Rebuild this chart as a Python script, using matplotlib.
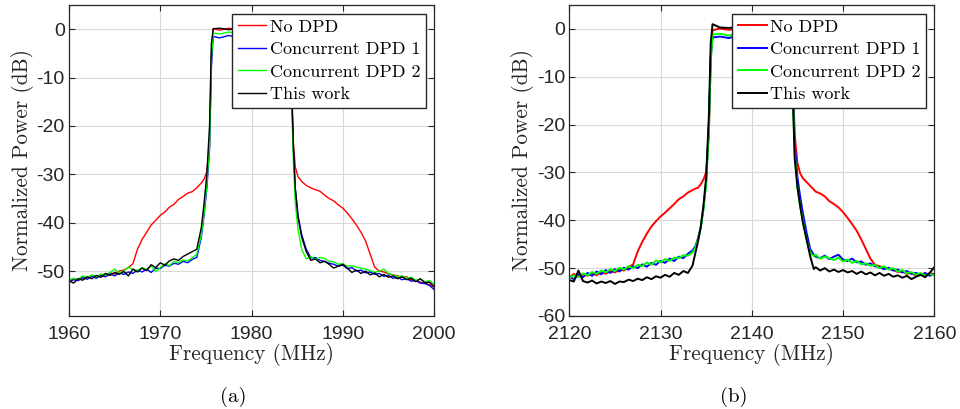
import numpy as np
import matplotlib
matplotlib.use('Agg')
import matplotlib.pyplot as plt

# frequency grids (MHz)
freq_a = [1960, 1960.5, 1961, 1961.5, 1962, 1962.5, 1963, 1963.5, 1964, 1964.5,
          1965, 1965.5, 1966, 1966.5, 1967, 1967.5, 1968, 1968.5, 1969, 1969.5,
          1970, 1970.5, 1971, 1971.5, 1972, 1972.5, 1973, 1973.5, 1974, 1974.5,
          1974.8, 1975.1, 1975.4, 1975.6, 1975.8, 1976.5, 1977.5, 1978.5, 1979.5, 1980.5,
          1981.5, 1982.5, 1983.5, 1984.2, 1984.45, 1984.6, 1984.8, 1985.1, 1985.5, 1986,
          1986.5, 1987, 1987.5, 1988, 1988.5, 1989, 1989.5, 1990, 1990.5, 1991,
          1991.5, 1992, 1992.5, 1993, 1993.5, 1994, 1994.5, 1995, 1995.5, 1996,
          1996.5, 1997, 1997.5, 1998, 1998.5, 1999, 1999.5, 2000]

nodpd_a = [-52.0, -51.6, -51.8, -51.2, -51.5, -51.0, -51.3, -50.8, -50.9, -50.4,
           -50.6, -50.0, -49.8, -49.3, -48.5, -45.5, -43.5, -42.0, -40.5, -39.5,
           -38.5, -37.8, -36.8, -36.2, -35.2, -34.6, -33.9, -33.6, -32.8, -31.8,
           -31.0, -29.5, -24.0, -5.0, 0.1, -0.2, 0.2, -0.1, 0.0, 0.1,
           -0.2, 0.1, -0.1, 0.0, -15.0, -24.0, -28.5, -30.5, -31.5, -32.3,
           -32.8, -33.2, -33.5, -34.3, -35.0, -35.5, -36.3, -37.0, -38.0, -39.2,
           -40.5, -42.0, -43.8, -46.5, -49.2, -50.0, -50.2, -50.6, -50.8, -51.0,
           -51.3, -51.2, -51.8, -51.9, -52.3, -52.5, -52.8, -53.3]

cdpd1_a = [-52.3, -51.8, -52.0, -51.4, -51.7, -51.1, -51.5, -50.9, -51.2, -50.6,
           -51.0, -50.4, -50.7, -50.2, -50.5, -49.8, -50.2, -49.6, -50.3, -49.4,
           -49.5, -48.8, -49.0, -48.4, -48.6, -48.0, -48.3, -47.6, -47.2, -43.0,
           -38.5, -33.0, -25.0, -8.0, -1.5, -1.8, -1.3, -1.7, -1.4, -1.6,
           -1.3, -1.7, -1.5, -1.6, -16.0, -25.0, -33.0, -38.5, -42.5, -45.5,
           -47.3, -47.2, -47.8, -48.0, -48.4, -48.6, -49.0, -48.8, -49.5, -49.3,
           -50.0, -49.8, -50.4, -50.2, -50.7, -50.5, -51.1, -50.9, -51.5, -51.3,
           -51.8, -51.6, -52.1, -52.0, -52.5, -52.6, -53.0, -53.8]

cdpd2_a = [-51.8, -51.5, -51.7, -51.0, -51.4, -50.8, -51.2, -50.6, -50.9, -50.3,
           -49.6, -50.4, -50.0, -49.2, -49.7, -49.9, -49.3, -49.7, -49.0, -50.1,
           -49.3, -48.5, -48.9, -48.0, -48.3, -47.7, -47.9, -47.3, -46.5, -42.5,
           -38.0, -32.0, -24.0, -6.0, -0.8, -1.0, -0.6, -0.9, -0.7, -0.9,
           -0.6, -0.8, -0.7, -0.9, -18.0, -28.0, -36.0, -41.5, -45.5, -47.5,
           -47.0, -47.6, -47.2, -47.4, -48.0, -48.1, -48.6, -48.5, -49.0, -48.9,
           -49.2, -49.4, -49.6, -49.9, -50.3, -50.0, -49.6, -50.5, -50.8, -51.2,
           -51.0, -51.5, -51.3, -51.9, -51.7, -52.2, -52.0, -52.7]

work_a = [-52.0, -52.5, -51.6, -51.9, -51.2, -51.6, -50.9, -51.3, -50.5, -50.9,
          -50.3, -50.7, -50.1, -51.0, -49.6, -50.2, -49.4, -49.9, -48.7, -49.3,
          -48.3, -48.8, -47.9, -47.5, -47.8, -47.0, -46.5, -46.0, -45.5, -41.0,
          -36.0, -30.0, -20.0, -3.0, 0.1, 0.2, -0.1, 0.1, 0.0, 0.1,
          -0.1, 0.1, 0.0, 0.0, -16.0, -25.0, -33.0, -39.0, -43.0, -46.0,
          -47.8, -47.5, -48.3, -48.0, -48.6, -49.4, -49.0, -48.6, -49.4, -50.3,
          -49.8, -50.5, -50.0, -50.8, -50.4, -51.2, -50.7, -51.3, -51.0, -51.6,
          -51.2, -51.8, -51.5, -52.2, -51.6, -52.4, -52.3, -53.2]

freq_b = [2120, 2120.5, 2121, 2121.5, 2122, 2122.5, 2123, 2123.5, 2124, 2124.5,
          2125, 2125.5, 2126, 2126.5, 2127, 2127.5, 2128, 2128.5, 2129, 2129.5,
          2130, 2130.5, 2131, 2131.5, 2132, 2132.5, 2133, 2133.5,
          2133.8, 2134.1, 2134.4, 2134.7, 2135.0, 2135.3, 2135.5, 2135.7, 2136.5, 2137.5,
          2138.5, 2139.5, 2140.5, 2141.5, 2142.5, 2143.5, 2144.2, 2144.5, 2144.7, 2145.0,
          2145.3, 2145.6, 2146.0, 2146.4, 2146.8,
          2147, 2147.5, 2148, 2148.5, 2149, 2149.5, 2150, 2150.5, 2151, 2151.5,
          2152, 2152.5, 2153, 2153.5, 2154, 2154.5, 2155, 2155.5, 2156, 2156.5,
          2157, 2157.5, 2158, 2158.5, 2159, 2159.5, 2160]

nodpd_b = [-52.0, -51.2, -51.8, -51.3, -51.6, -51.0, -51.5, -50.8, -51.2, -50.6,
           -50.9, -50.3, -50.5, -49.8, -49.2, -46.5, -44.5, -42.8, -41.3, -40.2,
           -39.2, -38.4, -37.5, -36.6, -35.6, -35.0, -34.2, -33.7,
           -33.4, -33.2, -32.5, -31.5, -30.0, -22.0, -6.0, -0.3, 0.1, -0.2,
           0.1, 0.0, -0.1, 0.1, -0.1, 0.0, -0.1, -10.0, -22.0, -28.0,
           -30.2, -31.2, -32.0, -32.8, -33.6,
           -34.0, -34.4, -35.0, -36.0, -36.6, -37.3, -38.3, -39.5, -40.8, -42.2,
           -44.0, -46.0, -48.0, -49.3, -49.6, -49.9, -50.2, -50.4, -50.8, -50.7,
           -51.2, -51.0, -51.6, -51.2, -51.5, -51.0, -51.3]

cdpd1_b = [-51.8, -52.3, -51.4, -51.9, -51.0, -51.6, -50.7, -51.3, -50.4, -51.0,
           -50.2, -50.7, -49.9, -50.3, -49.6, -50.0, -49.2, -49.7, -48.9, -49.3,
           -48.5, -48.9, -48.0, -48.5, -47.6, -47.9, -47.0, -46.3,
           -45.5, -43.8, -41.5, -37.5, -32.0, -20.0, -6.0, -1.8, -1.6, -1.9,
           -1.4, -1.7, -1.5, -1.8, -1.5, -1.7, -1.6, -12.0, -24.0, -31.0,
           -35.0, -38.5, -42.5, -46.0, -47.2,
           -47.6, -47.9, -47.4, -48.1, -47.6, -47.2, -48.2, -48.5, -48.0, -48.8,
           -48.6, -49.3, -49.0, -49.6, -49.8, -50.2, -49.9, -50.5, -50.3, -50.9,
           -50.6, -51.2, -51.0, -51.4, -51.0, -51.6, -51.2]

cdpd2_b = [-52.0, -51.5, -51.8, -51.1, -51.5, -50.8, -51.2, -50.5, -50.9, -50.2,
           -50.6, -49.9, -50.3, -49.6, -50.0, -49.3, -49.6, -48.8, -49.3, -48.4,
           -48.8, -48.1, -48.5, -47.8, -47.9, -47.3, -47.4, -46.7,
           -45.8, -44.0, -41.8, -37.8, -32.5, -21.0, -7.0, -1.2, -1.0, -1.4,
           -0.8, -1.2, -0.9, -1.3, -1.0, -1.2, -1.1, -13.0, -26.0, -33.0,
           -37.0, -40.0, -44.0, -46.8, -47.5,
           -47.2, -48.0, -47.6, -47.9, -48.3, -47.8, -48.6, -48.2, -48.9, -48.5,
           -49.2, -49.0, -49.5, -49.3, -50.0, -49.6, -50.3, -50.0, -50.7, -50.4,
           -51.1, -50.8, -51.4, -51.0, -51.6, -51.2, -51.5]

work_b = [-52.5, -52.8, -50.5, -52.7, -53.0, -52.6, -53.2, -52.8, -53.1, -52.7,
          -53.3, -52.8, -52.9, -52.4, -52.7, -52.2, -52.5, -51.9, -52.3, -51.7,
          -52.0, -51.4, -51.8, -51.0, -51.4, -50.6, -51.0, -49.5,
          -47.0, -44.5, -41.5, -37.0, -31.0, -18.0, -3.0, 1.0, 0.3, 0.2,
          0.4, 0.2, 0.3, 0.1, 0.3, 0.2, 0.1, -14.0, -27.0, -33.0,
          -37.0, -40.5, -44.0, -47.5, -50.2,
          -49.8, -50.5, -50.0, -50.7, -50.3, -50.8, -50.4, -50.9, -50.6, -51.2,
          -50.7, -51.3, -50.9, -51.5, -51.0, -51.6, -51.2, -51.8, -51.5, -52.0,
          -51.6, -52.3, -51.8, -51.4, -51.9, -51.0, -49.8]

labels = ['No DPD', 'Concurrent DPD 1', 'Concurrent DPD 2', 'This work']
colors = ['#ff0000', '#0000ff', '#00ff00', '#000000']

plt.rcParams['axes.unicode_minus'] = False
serif = 'cmr10'
axcol = '#262626'

fig = plt.figure(figsize=(9.6, 4.09), dpi=100)

panels = [
    ([0.0719, 0.2274, 0.3802, 0.7604], freq_a, [nodpd_a, cdpd1_a, cdpd2_a, work_a],
     (1960, 2000), (-59.3, 5), [-50, -40, -30, -20, -10, 0], 1.0, '(a)', 0.243),
    ([0.593, 0.2274, 0.3802, 0.7604], freq_b, [nodpd_b, cdpd1_b, cdpd2_b, work_b],
     (2120, 2160), (-60, 5), [-60, -50, -40, -30, -20, -10, 0], 1.4, '(b)', 0.764),
]

for pos, f, series, xl, yl, yt, lw, cap, capx in panels:
    ax = fig.add_axes(pos)
    for s, c, lab in zip(series, colors, labels):
        ax.plot(f, s, color=c, lw=lw, label=lab)
    ax.set_xlim(*xl)
    ax.set_ylim(*yl)
    ax.set_xticks(np.arange(xl[0], xl[1] + 1, 10))
    ax.set_yticks(yt)
    ax.grid(True, color='#d9d9d9', lw=0.8)
    ax.set_axisbelow(True)
    ax.tick_params(direction='in', top=True, right=True, length=4,
                   labelsize=14, colors=axcol, labelcolor=axcol)
    ax.tick_params(axis='x', pad=7)
    ax.tick_params(axis='y', pad=3)
    for lbl in ax.get_xticklabels() + ax.get_yticklabels():
        lbl.set_family('Liberation Sans')
    for sp in ax.spines.values():
        sp.set_color(axcol)
        sp.set_linewidth(0.9)
    ax.set_xlabel('Frequency (MHz)', fontsize=15.3, family=serif, color=axcol, labelpad=0)
    ax.set_ylabel('Normalized Power (dB)', fontsize=15.3, family=serif, color=axcol, labelpad=2)
    leg = ax.legend(loc='upper right', bbox_to_anchor=(0.978, 0.972), fancybox=False,
                    framealpha=1, edgecolor='#262626', prop={'family': serif, 'size': 13},
                    handlelength=1.6, handletextpad=0.2, borderpad=0.3, labelspacing=0.38,
                    borderaxespad=0)
    leg.get_frame().set_linewidth(1.0)
    fig.text(capx, 0.03, cap, ha='center', va='center', fontsize=15, family=serif)

fig.savefig('out.png', dpi=100)
